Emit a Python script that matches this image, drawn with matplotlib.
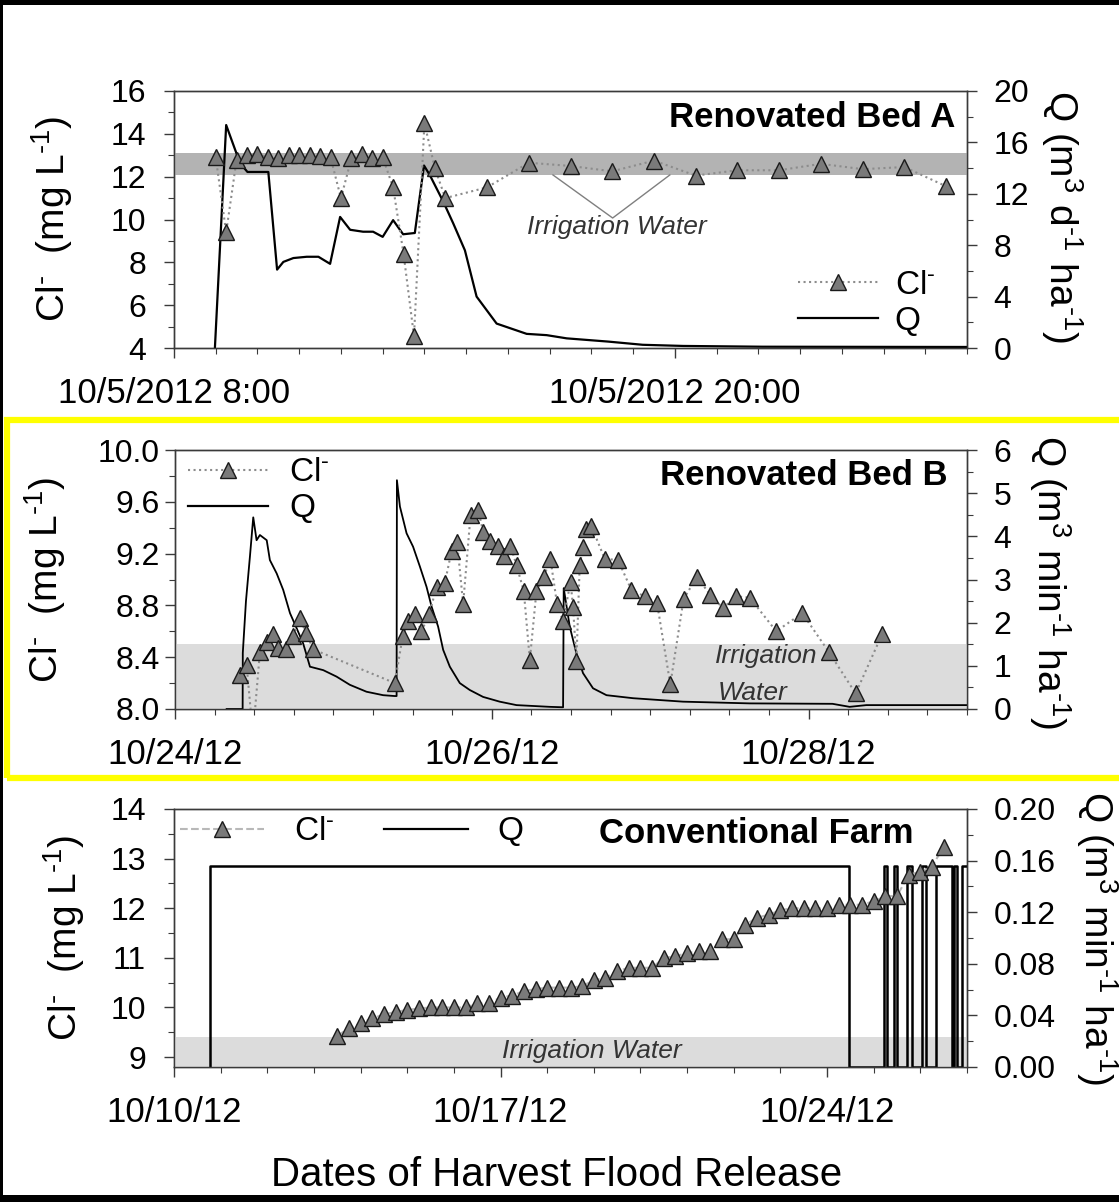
import matplotlib
matplotlib.use('Agg')
import matplotlib.pyplot as plt
from matplotlib.lines import Line2D
from matplotlib.patches import Rectangle
from matplotlib.ticker import MultipleLocator, FixedLocator, FixedFormatter, FormatStrFormatter

plt.rcParams['font.family'] = ['Liberation Sans', 'DejaVu Sans']
plt.rcParams['mathtext.fontset'] = 'custom'
plt.rcParams['mathtext.rm'] = 'Liberation Sans'
plt.rcParams['mathtext.it'] = 'Liberation Sans:italic'

# ---------------- Panel A: Renovated Bed A (hours after 10/5/2012 8:00) ----------------
a_cl_hours = [1.0, 1.25, 1.5, 1.75, 2.0, 2.25, 2.5, 2.75, 3.0, 3.25, 3.5, 3.75, 4.0, 4.25,
              4.5, 4.75, 5.0, 5.25, 5.5, 5.75, 6.0, 6.25, 6.5, 7.5, 8.5, 9.5, 10.5, 11.5,
              12.5, 13.5, 14.5, 15.5, 16.5, 17.5, 18.5]
a_cl = [12.9, 9.4, 12.8, 13.0, 13.05, 12.9, 12.85, 13.0, 13.0, 13.0, 12.95, 12.9, 11.0, 12.85,
        13.05, 12.85, 12.9, 11.5, 8.4, 4.55, 14.5, 12.4, 11.0, 11.5, 12.65, 12.5, 12.25, 12.75,
        12.05, 12.3, 12.3, 12.6, 12.35, 12.45, 11.55]
a_q_hours = [0.98, 1.25, 1.58, 1.76, 2.26, 2.47, 2.62, 2.86, 3.18, 3.46, 3.74, 3.98, 4.22, 4.53,
             4.77, 5.0, 5.25, 5.49, 5.77, 5.99, 6.13, 6.45, 6.69, 6.97, 7.25, 7.73, 8.45, 8.93,
             9.41, 10.4, 11.23, 12.2, 14.1, 19.0]
a_q = [0.0, 17.35, 14.4, 13.7, 13.7, 6.1, 6.7, 7.0, 7.1, 7.1, 6.55, 10.2, 9.2, 9.05,
       9.05, 8.65, 9.95, 8.85, 8.95, 14.2, 13.45, 11.4, 9.7, 7.6, 4.0, 1.9, 1.1, 1.0,
       0.75, 0.5, 0.25, 0.16, 0.1, 0.08]
a_irrigation = [12.1, 13.1]
a_pointer_hours = [9.08, 10.51, 11.88]
a_pointer_cl = [12.08, 10.07, 12.08]
a_xtick_labels = ['10/5/2012 8:00', '10/5/2012 20:00']

# ---------------- Panel B: Renovated Bed B (days after 10/24/12) ----------------
b_cl_days = [0.41, 0.452, 0.492, 0.536, 0.579, 0.62, 0.652, 0.70, 0.746, 0.789, 0.826, 0.873,
             1.388, 1.437, 1.472, 1.514, 1.556, 1.604, 1.651, 1.703, 1.746, 1.781, 1.819,
             1.866, 1.914, 1.945, 1.987, 2.036, 2.076, 2.118, 2.156, 2.202, 2.240, 2.282,
             2.328, 2.370, 2.412, 2.450, 2.497, 2.513, 2.534, 2.555, 2.576, 2.597, 2.629,
             2.713, 2.797, 2.881, 2.965, 3.043, 3.127, 3.211, 3.295, 3.380, 3.459, 3.544,
             3.628, 3.796, 3.960, 4.128, 4.297, 4.465]
b_cl = [8.26, 8.34, 7.8, 8.44, 8.52, 8.58, 8.47, 8.46, 8.56, 8.70, 8.59, 8.46,
        8.20, 8.56, 8.68, 8.73, 8.60, 8.73, 8.94, 8.97, 9.22, 9.29, 8.81,
        9.50, 9.54, 9.37, 9.30, 9.26, 9.18, 9.26, 9.11, 8.91, 8.38, 8.91,
        9.02, 9.16, 8.81, 8.68, 8.98, 8.79, 8.37, 9.11, 9.25, 9.39, 9.41,
        9.16, 9.15, 8.92, 8.87, 8.82, 8.19, 8.85, 9.02, 8.88, 8.78, 8.87,
        8.86, 8.60, 8.74, 8.44, 8.12, 8.58]
b_q_days = [0.326, 0.427, 0.428, 0.448, 0.473, 0.494, 0.515, 0.536, 0.579, 0.599, 0.642, 0.683,
            0.726, 0.768, 0.809, 0.852, 0.936, 1.020, 1.104, 1.209, 1.314, 1.388, 1.399, 1.401,
            1.420, 1.462, 1.503, 1.546, 1.588, 1.620, 1.661, 1.693, 1.735, 1.798, 1.861, 1.945,
            2.050, 2.156, 2.366, 2.450, 2.454, 2.492, 2.534, 2.576, 2.639, 2.724, 2.892, 3.207,
            3.628, 4.151, 4.259, 4.364, 4.995]
b_q = [0.0, 0.0, 1.3, 2.5, 3.53, 4.44, 3.91, 4.03, 3.91, 3.45, 3.14, 2.76,
       2.22, 1.87, 1.52, 0.98, 0.90, 0.75, 0.56, 0.40, 0.32, 0.30, 0.30, 5.30,
       4.69, 4.07, 3.76, 3.30, 2.83, 2.37, 1.91, 1.37, 0.98, 0.60, 0.44, 0.28,
       0.17, 0.09, 0.05, 0.04, 2.80, 1.91, 1.29, 0.83, 0.48, 0.32, 0.25, 0.17,
       0.13, 0.12, 0.05, 0.09, 0.09]
b_irrigation = [8.0, 8.5]
b_xtick_labels = ['10/24/12', '10/26/12', '10/28/12']

# ---------------- Panel C: Conventional Farm (days after 10/10/12) ----------------
c_cl_days = [3.5, 3.75, 4.0, 4.25, 4.5, 4.75, 5.0, 5.25, 5.5, 5.75, 6.0, 6.25, 6.5, 6.75,
             7.0, 7.25, 7.5, 7.75, 8.0, 8.25, 8.5, 8.75, 9.0, 9.25, 9.5, 9.75, 10.0, 10.25,
             10.5, 10.75, 11.0, 11.25, 11.5, 11.75, 12.0, 12.25, 12.5, 12.75, 13.0, 13.25,
             13.5, 13.75, 14.0, 14.25, 14.5, 14.75, 15.0, 15.25, 15.5, 15.75, 16.0, 16.25,
             16.5]
c_cl = [9.43, 9.58, 9.68, 9.78, 9.86, 9.91, 9.95, 9.98, 10.0, 10.0, 10.0, 10.0, 10.08, 10.08,
        10.2, 10.24, 10.33, 10.37, 10.4, 10.4, 10.4, 10.43, 10.55, 10.6, 10.73, 10.8, 10.8, 10.8,
        11.0, 11.03, 11.1, 11.13, 11.13, 11.37, 11.38, 11.67, 11.81, 11.87, 11.96, 12.0,
        12.0, 12.0, 12.0, 12.07, 12.07, 12.07, 12.14, 12.24, 12.25, 12.67, 12.74, 12.84,
        13.24]
c_q_days = [0.77, 0.77, 14.475, 15.225, 15.295, 15.44, 15.51, 15.72, 15.82, 16.045, 16.13,
            16.345, 16.675, 16.72, 16.795, 16.90, 17.0]
c_q = [0.0, 0.156, 0.0, 0.156, 0.0, 0.156, 0.0, 0.156, 0.0, 0.156, 0.0,
       0.156, 0.0, 0.156, 0.0, 0.156, 0.156]
c_irrigation = [8.8, 9.4]
c_xtick_labels = ['10/10/12', '10/17/12', '10/24/12']

# ---------------- figure ----------------
W, H = 1119, 1202
fig = plt.figure(figsize=(W / 100, H / 100), dpi=100, facecolor='white')


def rect(l, t, r, b):
    return [l / W, 1 - b / H, (r - l) / W, (b - t) / H]


SPINE = '#3a3a3a'
MFC = '#7a7a7a'
TICK_FS = 23
XTICK_FS = 25
LAB_FS = 28


def make_panel(r, xlim, ylim, y2lim, xmaj, xlabels, xminor, ymaj, yminor, y2maj, y2minor,
               yfmt, y2fmt, ypad, y2pad):
    ax = fig.add_axes(r)
    ax2 = ax.twinx()
    ax.set_zorder(ax2.get_zorder() + 1)
    ax.patch.set_visible(False)
    ax.set_xlim(*xlim)
    ax.set_ylim(*ylim)
    ax2.set_ylim(*y2lim)
    ax.xaxis.set_major_locator(FixedLocator(xmaj))
    ax.xaxis.set_major_formatter(FixedFormatter(xlabels))
    ax.xaxis.set_minor_locator(MultipleLocator(xminor))
    ax.yaxis.set_major_locator(MultipleLocator(ymaj))
    ax.yaxis.set_minor_locator(MultipleLocator(yminor))
    ax.yaxis.set_major_formatter(FormatStrFormatter(yfmt))
    ax2.yaxis.set_major_locator(MultipleLocator(y2maj))
    ax2.yaxis.set_minor_locator(MultipleLocator(y2minor))
    ax2.yaxis.set_major_formatter(FormatStrFormatter(y2fmt))
    for a in (ax, ax2):
        for s in a.spines.values():
            s.set_color(SPINE)
            s.set_linewidth(1.0)
    ax.tick_params(axis='x', which='major', direction='out', length=7, width=1,
                   color=SPINE, labelsize=XTICK_FS, pad=14)
    ax.tick_params(axis='x', which='minor', direction='out', length=4, width=0.8, color=SPINE)
    ax.tick_params(axis='y', which='major', direction='out', length=7, width=1,
                   color=SPINE, labelsize=TICK_FS, pad=ypad)
    ax.tick_params(axis='y', which='minor', direction='out', length=4, width=0.8, color=SPINE)
    ax2.tick_params(axis='y', which='major', direction='out', length=7, width=1,
                    color=SPINE, labelsize=TICK_FS, pad=y2pad)
    ax2.tick_params(axis='y', which='minor', direction='out', length=4, width=0.8, color=SPINE)
    return ax, ax2


cl_handle = lambda ls, col: Line2D([], [], color=col, ls=ls, lw=1.5, marker='^', ms=12,
                                   mfc=MFC, mec='#1a1a1a', mew=1)
q_handle = Line2D([], [], color='black', lw=1.6)
CL_TXT = r'Cl$^{\text{-}}$'

# ---------- Panel A ----------
axA, axA2 = make_panel(rect(174, 91, 967, 348), (0, 19), (4, 16), (0, 20), [0, 12],
                       a_xtick_labels, 1, 2, 1, 4, 2, '%d', '%d', 13, 12)
axA.axhspan(a_irrigation[0], a_irrigation[1], color='#b3b3b3', lw=0, zorder=0.5)
axA.plot(a_pointer_hours, a_pointer_cl, color='#7f7f7f', lw=1.0, zorder=1)
axA.text(10.61, 9.65, 'Irrigation Water', style='italic', fontsize=19, color='#333333',
         ha='center', va='center', zorder=1)
axA.plot(a_q_hours, a_q, color='black', lw=1.6, transform=axA2.transData, zorder=2)
axA.plot(a_cl_hours, a_cl, color='#8c8c8c', ls=':', lw=1.5, marker='^', ms=12,
         mfc=MFC, mec='#1a1a1a', mew=1, zorder=3)
axA.text(0.985, 0.86, 'Renovated Bed A', transform=axA.transAxes, ha='right',
         va='baseline', fontsize=25, fontweight='bold')
axA.legend([cl_handle(':', '#8c8c8c'), q_handle], [CL_TXT, 'Q'], loc='center left',
           bbox_to_anchor=(0.787, 0.175), frameon=False, fontsize=24, handlelength=2.4,
           handletextpad=0.5, labelspacing=0.15, borderpad=0, borderaxespad=0, numpoints=1)

# ---------- Panel B ----------
axB, axB2 = make_panel(rect(175, 450, 967, 709), (0, 5), (8.0, 10.0), (0, 6), [0, 2, 4],
                       b_xtick_labels, 0.25, 0.4, 0.2, 1, 0.5, '%.1f', '%d', 4, 12)
axB.axhspan(b_irrigation[0], b_irrigation[1], color='#dcdcdc', lw=0, zorder=0.5)
axB.text(3.735, 8.41, 'Irrigation', style='italic', fontsize=19, color='#333333',
         ha='center', va='center', zorder=1)
axB.text(3.644, 8.12, 'Water', style='italic', fontsize=19, color='#333333',
         ha='center', va='center', zorder=1)
axB.plot(b_q_days, b_q, color='black', lw=1.3, transform=axB2.transData, zorder=2)
axB.plot(b_cl_days, b_cl, color='#8c8c8c', ls=':', lw=1.5, marker='^', ms=12,
         mfc=MFC, mec='#1a1a1a', mew=1, zorder=3)
axB.text(0.976, 0.865, 'Renovated Bed B', transform=axB.transAxes, ha='right',
         va='baseline', fontsize=25, fontweight='bold')
axB.legend([cl_handle(':', '#8c8c8c'), q_handle], [CL_TXT, 'Q'], loc='center left',
           bbox_to_anchor=(0.016, 0.842), frameon=False, fontsize=24, handlelength=2.4,
           handletextpad=0.65, labelspacing=0.15, borderpad=0, borderaxespad=0, numpoints=1)

# ---------- Panel C ----------
axC, axC2 = make_panel(rect(174, 809, 967, 1067), (0, 17), (8.8, 14), (0, 0.2), [0, 7, 14],
                       c_xtick_labels, 1, 1, 0.5, 0.04, 0.02, '%d', '%.2f', 13, 12)
axC.axhspan(c_irrigation[0], c_irrigation[1], color='#dcdcdc', lw=0, zorder=0.5)
axC.text(8.96, 9.12, 'Irrigation Water', style='italic', fontsize=19, color='#333333',
         ha='center', va='center', zorder=1)
axC.plot(c_q_days, c_q, color='black', lw=1.8, drawstyle='steps-post',
         transform=axC2.transData, zorder=2)
axC.plot(c_cl_days, c_cl, color='#b8b8b8', ls='--', lw=1.5, marker='^', ms=12,
         mfc=MFC, mec='#1a1a1a', mew=1, zorder=3)
axC.text(0.932, 0.868, 'Conventional Farm', transform=axC.transAxes, ha='right',
         va='baseline', fontsize=25, fontweight='bold')
axC.legend([cl_handle('--', '#b8b8b8'), q_handle], [CL_TXT, 'Q'], loc='center left',
           bbox_to_anchor=(0.008, 0.911), frameon=False, fontsize=24, handlelength=2.5,
           handletextpad=0.9, columnspacing=1.5, ncol=2, borderpad=0, borderaxespad=0,
           numpoints=1)

# ---------- axis labels ----------
cl_label = r'Cl$^{\text{-}}$  (mg L$^{\text{-1}}$)'
fig.text(52 / W, 1 - 219 / H, cl_label, rotation=90, ha='center', va='center', fontsize=LAB_FS)
fig.text(45 / W, 1 - 580 / H, cl_label, rotation=90, ha='center', va='center', fontsize=LAB_FS)
fig.text(64 / W, 1 - 938 / H, cl_label, rotation=90, ha='center', va='center', fontsize=LAB_FS)
fig.text(1062 / W, 1 - 217 / H, r'Q (m$^{3}$ d$^{\text{-1}}$ ha$^{\text{-1}}$)', rotation=-90,
         ha='center', va='center', fontsize=LAB_FS)
fig.text(1050 / W, 1 - 582 / H, r'Q (m$^{3}$ min$^{\text{-1}}$ ha$^{\text{-1}}$)',
         rotation=-90, ha='center', va='center', fontsize=LAB_FS)
fig.text(1097 / W, 1 - 938 / H, r'Q (m$^{3}$ min$^{\text{-1}}$ ha$^{\text{-1}}$)',
         rotation=-90, ha='center', va='center', fontsize=LAB_FS)
fig.text(557 / W, 1 - 1175 / H, 'Dates of Harvest Flood Release', ha='center', va='center',
         fontsize=29)

# ---------- frame decorations ----------
fig.patches.append(Rectangle((7 / W, 1 - 778 / H), (W + 20) / W, (778 - 420) / H,
                             transform=fig.transFigure, fill=False, edgecolor='#ffff00',
                             lw=4.5, zorder=10))
for (x0, y0, w, h) in [(0, 0, W, 7), (0, H - 5, W, 5), (0, 0, 3, H)]:
    fig.patches.append(Rectangle((x0 / W, y0 / H), w / W, h / H, transform=fig.transFigure,
                                 facecolor='black', edgecolor='none', zorder=11))

fig.savefig('out.png', dpi=100, facecolor='white')
